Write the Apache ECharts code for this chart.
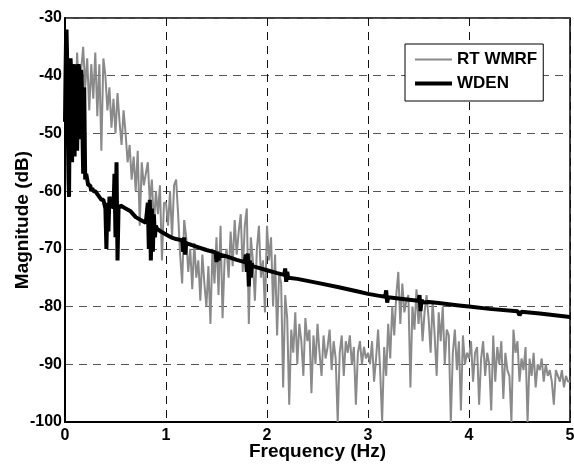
<!DOCTYPE html>
<html><head><meta charset="utf-8">
<script src="https://cdn.jsdelivr.net/npm/echarts@6/dist/echarts.min.js"></script>
<style>html,body{margin:0;padding:0;background:#fff}#c{width:574px;height:465px}</style>
</head><body><div id="c"></div>
<script>
var xTicks = [0, 1, 2, 3, 4, 5];
var yTicks = [-100, -90, -80, -70, -60, -50, -40, -30];
var rtStep = 0.02; // frequency resolution of RT WMRF spectrum (Hz)
var rtWmrfDb = [
-45,-40,-48,-42,-38,-46,-36,-44,-39,-35,
-42,-37,-46,-38,-44,-36,-47,-38,-53,-37,
-40,-46,-42,-49,-44,-50,-43,-48,-52,-46,
-50,-55,-52,-58,-54,-60,-53,-66,-55,-59,
-57,-55,-62,-58,-66,-60,-64,-59,-72,-62,
-62,-66,-60,-68,-59,-58,-64,-71,-76,-65,
-68,-74,-70,-77,-69,-75,-72,-79,-71,-76,
-80,-73,-83,-70,-76,-68,-78,-66,-82,-72,
-70,-75,-67,-73,-65,-71,-67,-64,-74,-66,
-63,-83,-68,-72,-79,-70,-66,-75,-72,-81,
-66,-72,-68,-80,-71,-85,-74,-76,-94,-78,
-82,-97,-84,-88,-81,-90,-83,-86,-92,-82,
-86,-84,-95,-85,-90,-83,-88,-92,-85,-89,
-87,-84,-91,-86,-89,-100,-88,-85,-92,-86,
-88,-85,-90,-87,-97,-88,-86,-90,-87,-89,
-88,-90,-86,-93,-89,-84,-91,-100,-87,-92,
-83,-89,-80,-85,-78,-74,-83,-76,-81,-79,
-78,-94,-80,-84,-77,-83,-79,-86,-81,-78,
-82,-88,-79,-85,-92,-81,-86,-80,-90,-84,
-85,-100,-88,-84,-91,-86,-98,-85,-90,-88,
-89,-86,-93,-88,-87,-97,-89,-86,-92,-88,
-90,-98,-85,-93,-87,-90,-86,-96,-88,-91,
-92,-100,-84,-88,-86,-93,-89,-91,-87,-100,
-89,-92,-88,-94,-90,-91,-89,-93,-90,-92,
-91,-93,-97,-91,-92,-93,-91,-94,-92,-93,
-93
];
var wdenFreq = [
0.000,0.005,0.010,0.015,0.020,0.025,0.030,0.035,0.040,0.045,0.050,0.055,0.060,0.065,0.070,0.075,
0.080,0.085,0.090,0.095,0.100,0.105,0.110,0.115,0.120,0.125,0.130,0.135,0.140,0.145,0.150,0.155,
0.160,0.165,0.170,0.175,0.180,0.185,0.190,0.195,
0.20,0.21,0.22,0.23,0.24,0.25,0.26,0.27,0.28,0.29,
0.30,0.32,0.34,0.36,0.38,0.40,0.41,0.42,0.43,0.44,
0.46,0.48,0.49,0.50,0.51,0.52,0.53,0.55,0.60,0.65,
0.70,0.75,0.80,0.82,0.83,0.84,0.85,0.86,0.87,0.88,0.89,0.90,0.91,
0.95,1.00,1.05,1.10,1.16,1.17,1.18,1.19,1.20,1.21,1.30,1.40,
1.49,1.50,1.51,1.52,1.53,1.60,1.70,1.78,1.79,1.80,1.81,1.82,1.83,1.84,1.85,1.86,
1.90,2.00,2.10,2.17,2.18,2.19,2.20,2.21,2.30,2.50,2.70,2.90,3.00,3.10,
3.17,3.18,3.19,3.20,3.30,3.45,3.50,3.51,3.52,3.53,3.54,3.60,3.70,3.90,4.00,4.20,
4.48,4.50,4.52,4.70,5.00
];
var wdenDb = [
-48,-40,-34,-32,-36,-45,-52,-58,-61,-50,-41,-37,-39,-47,-55,-43,
-38,-40,-49,-54,-44,-38,-39,-46,-53,-47,-40,-38,-39,-45,-51,-42,
-39,-40,-44,-52,-57,-46,-42,-50,
-58,-57,-58,-59,-59,-59,-60,-59.5,-60,-60,
-60,-60.5,-61,-61.5,-61.5,-63,-70,-62,-67,-61,
-62,-63,-57,-68,-55,-72,-63,-62.5,-63,-63.5,
-64.5,-65,-65.5,-62,-70,-61.5,-72,-63,-70.5,-64,-68,-66,-66.5,
-67,-67.5,-68,-68.3,-68.5,-70.5,-68,-71,-69,-69.3,-69.6,-70.2,
-70.6,-72.3,-70.5,-72,-71,-71.3,-71.9,-72.3,-71,-74,-70.8,-76.5,-72,-75,-72.5,-73,
-73.2,-73.7,-74.2,-74.5,-73.4,-75.7,-74,-75,-75.2,-75.9,-76.6,-77.4,-77.8,-78.1,
-78.3,-77.2,-79.3,-78.4,-78.6,-78.9,-79,-78,-80.8,-78.8,-79.3,-79.2,-79.4,-79.8,-80,-80.4,
-80.8,-81.5,-80.9,-81.2,-81.8
];

var rtData = rtWmrfDb.map(function (v, i) { return [+(i * rtStep).toFixed(2), v]; });
var wdenData = wdenFreq.map(function (f, i) { return [f, wdenDb[i]]; });

var FONT = '"Liberation Sans", Arial, sans-serif';
var chart = echarts.init(document.getElementById('c'), null, {renderer: 'canvas'});
chart.setOption({
  animation: false,
  backgroundColor: '#fff',
  grid: {left: 65, right: 4, top: 18, bottom: 43, containLabel: false, outerBoundsMode: 'none',
    show: true, borderColor: '#000', borderWidth: 1.5, backgroundColor: 'transparent'},
  legend: {
    orient: 'vertical', left: 405, top: 44,
    padding: [7, 6, 9, 8], itemGap: 7, itemWidth: 37, itemHeight: 14,
    borderColor: '#000', borderWidth: 1, backgroundColor: '#fff',
    itemStyle: {opacity: 0},
    textStyle: {fontFamily: FONT, fontWeight: 'bold', fontSize: 17, color: '#000'},
    data: [
      {name: 'RT WMRF', lineStyle: {width: 2, color: '#8a8a8a'}},
      {name: 'WDEN', lineStyle: {width: 4, color: '#000'}}
    ]
  },
  xAxis: {
    type: 'value', min: 0, max: 5, interval: 1,
    name: 'Frequency (Hz)', nameLocation: 'middle', nameGap: 20, nameMoveOverlap: false,
    nameTextStyle: {fontFamily: FONT, fontWeight: 'bold', fontSize: 19, color: '#000'},
    axisLine: {show: true, lineStyle: {color: '#000', width: 2}},
    axisTick: {show: false},
    axisLabel: {margin: 6, fontFamily: FONT, fontWeight: 'bold', fontSize: 16, color: '#000',
      formatter: function (v) { return xTicks.indexOf(v) >= 0 ? String(v) : ''; }},
    splitLine: {show: true, lineStyle: {color: '#111', type: [8, 6], width: 1}}
  },
  yAxis: {
    type: 'value', min: -100, max: -30, interval: 10,
    name: 'Magnitude (dB)', nameLocation: 'middle', nameGap: 33, nameMoveOverlap: false,
    nameTextStyle: {fontFamily: FONT, fontWeight: 'bold', fontSize: 19, color: '#000'},
    axisLine: {show: true, lineStyle: {color: '#000', width: 2}},
    axisTick: {show: false},
    axisLabel: {margin: 3, fontFamily: FONT, fontWeight: 'bold', fontSize: 16, color: '#000',
      formatter: function (v) { return yTicks.indexOf(v) >= 0 ? String(v) : ''; }},
    splitLine: {show: true, lineStyle: {color: '#555', type: [8, 6], width: 1}}
  },
  series: [
    {name: 'RT WMRF', type: 'line', data: rtData, symbol: 'none', z: 2,
      lineStyle: {color: '#8a8a8a', width: 2}, itemStyle: {color: '#8a8a8a'}},
    {name: 'WDEN', type: 'line', data: wdenData, symbol: 'none', z: 3,
      lineStyle: {color: '#000', width: 4}, itemStyle: {color: '#000'}}
  ]
});
</script></body></html>
